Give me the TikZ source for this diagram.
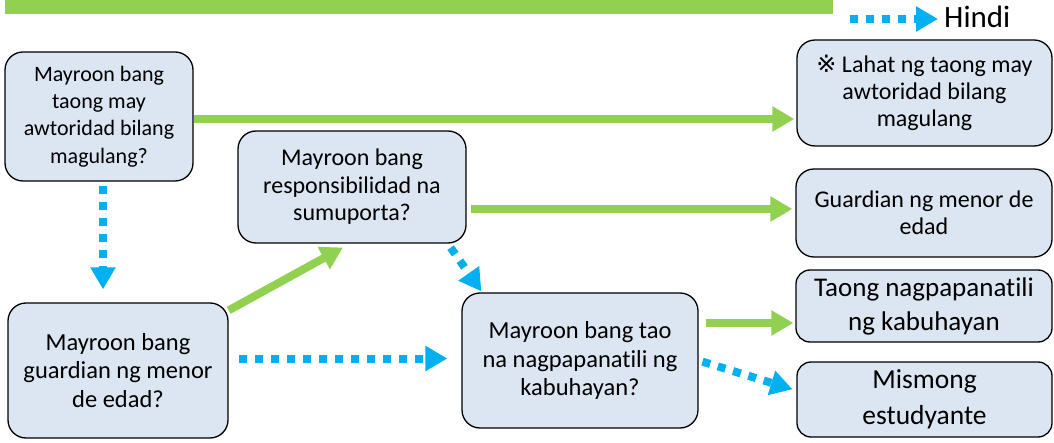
\documentclass[tikz,border=0pt]{standalone}
\usepackage{fontspec}
\setmainfont{Carlito}[Ligatures=NoCommon]
\newfontfamily\markfont{DejaVu Sans}
\usetikzlibrary{arrows.meta}
\definecolor{yesgreen}{HTML}{92D050}
\definecolor{noblue}{HTML}{00B0F0}
\definecolor{boxfill}{HTML}{DCE6F2}
\tikzstyle{question} = [rectangle, rounded corners=18pt, draw=black, line width=1.3pt, fill=boxfill, align=center, inner sep=0pt, font=\fontsize{24}{27.5}\selectfont]
\tikzstyle{answer} = [question, minimum width=255pt]
\tikzstyle{yesarrow} = [line width=8pt, yesgreen, -{Triangle[length=22pt,width=24pt]}]
\tikzstyle{noarrow} = [line width=8pt, noblue, dash pattern=on 8pt off 8pt, -{Triangle[length=22pt,width=24pt]}]
\begin{document}
\begin{tikzpicture}[x=1pt, y=-1pt]
	\useasboundingbox (0,0) rectangle (1054,443);

	% top bar and legend
	\fill [yesgreen] (5,0) rectangle (833,14);
	\coordinate (legstart) at (850,19);
	\node (hindi) [anchor=base west, inner sep=0pt, font=\fontsize{31}{31}\selectfont] at (944,28) {Hindi};
	\draw [noarrow, shorten >=6pt] (legstart) -- (legstart -| hindi.west);

	% questions
	\node (qparent) [question, minimum width=188pt, minimum height=129pt, font=\fontsize{22}{27.3}\selectfont] at (99,116.5) {Mayroon bang\\taong may\\awtoridad bilang\\magulang?};
	\node (qsupport) [question, minimum width=228pt, minimum height=112pt] at (352,187) {Mayroon bang\\responsibilidad na\\sumuporta?};
	\node (qguard) [question, minimum width=220pt, minimum height=135pt, font=\fontsize{24.5}{28.3}\selectfont] at (118,370.5) {Mayroon bang\\guardian ng menor\\de edad?};
	\node (qkeeper) [question, minimum width=236pt, minimum height=135pt, font=\fontsize{24.5}{28.5}\selectfont] at (580,360.5) {Mayroon bang tao\\na nagpapanatili ng\\kabuhayan?};

	% answers
	\node (aparent) [answer, minimum height=106pt, font=\fontsize{24}{26.7}\selectfont] at (924.5,93) {{\markfont\fontsize{24}{24}\selectfont ※} Lahat ng taong may\\awtoridad bilang\\magulang};
	\node (aguard) [answer, minimum width=256pt, minimum height=88pt, font=\fontsize{24}{27}\selectfont] at (924,213) {Guardian ng menor de\\edad};
	\node (akeeper) [answer, minimum width=256pt, minimum height=72pt, rounded corners=14pt, font=\fontsize{27}{34}\selectfont] at (924,306) {Taong nagpapanatili\\ng kabuhayan};
	\node (aself) [answer, minimum height=75pt, rounded corners=14pt, font=\fontsize{27.5}{36}\selectfont] at (924.5,399.5) {Mismong\\estudyante};

	% connectors
	\draw [yesarrow, shorten >=2pt] ([yshift=-2.5pt]qparent.east) -- ([yshift=-2.5pt]qparent.east -| aparent.west);
	\draw [noarrow, shorten <=4pt, shorten >=13pt] ([xshift=4pt]qparent.south) -- ([xshift=4pt]qparent.south |- qguard.north);
	\draw [yesarrow, shorten >=8pt] ([yshift=-8pt]qguard.north east) -- ([xshift=-2pt]qsupport.south);
	\draw [noarrow, shorten <=10pt, shorten >=14pt] ([yshift=12pt]qguard.east) -- ([yshift=12pt]qguard.east -| qkeeper.west);
	\draw [yesarrow, shorten <=4pt, shorten >=3pt] ([yshift=4pt]aguard.west -| qsupport.east) -- ([yshift=4pt]aguard.west);
	\draw [noarrow] ([xshift=-16pt,yshift=-4pt]qsupport.south east) -- ([xshift=20pt,yshift=1pt]qkeeper.north west);
	\draw [yesarrow, shorten <=7pt, shorten >=2pt] ([yshift=-17pt]akeeper.west -| qkeeper.east) -- ([yshift=-17pt]akeeper.west);
	\draw [noarrow, shorten <=4pt, shorten >=4pt] (qkeeper.east) -- ([yshift=9pt]aself.west);
\end{tikzpicture}
\end{document}
